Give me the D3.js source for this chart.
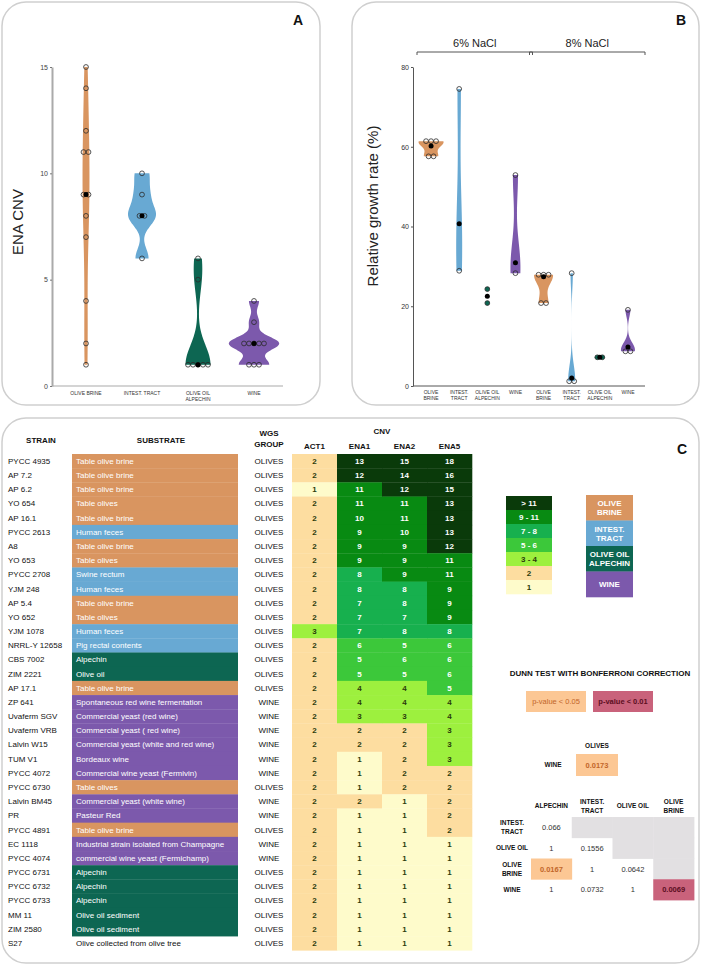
<!DOCTYPE html>
<html><head><meta charset="utf-8">
<script src="https://cdn.jsdelivr.net/npm/d3@7"></script>
<style>body{margin:0;background:#fff}svg{display:block}</style>
</head><body>
<svg id="c" width="702" height="966"></svg>
<script>
// ---------------- DATA ----------------
// Panel A : ENA CNV per isolation-source group
const groupsA = ["OLIVE BRINE","INTEST. TRACT","OLIVE OIL ALPECHIN","WINE"];
const labelsA = [["OLIVE BRINE"],["INTEST. TRACT"],["OLIVE OIL","ALPECHIN"],["WINE"]];
const enaBrine  = [15,14,12,11,11,9,9,8,7,4,2,1];
const enaIntest = [10,9,8,8,6];
const enaOil    = [6,5,1,1,1,1,1];
const enaWine   = [4,3,2,2,2,2,2,1,1,1];
const yTicksA = [0,5,10,15];

// Panel B : relative growth rate (%)
const conditionsB = ["6% NaCl","8% NaCl"];
const labelsB = [["OLIVE","BRINE"],["INTEST.","TRACT"],["OLIVE OIL","ALPECHIN"],["WINE"]];
const growth6Brine  = [61.4,61.4,61.4,57.6,57.6];
const growth6Intest = [74.5,28.9];
const growth6Oil    = [24.3,20.8];
const growth6Wine   = [52.9,28.3];
const growth8Brine  = [27.9,27.9,27.9,20.8,20.8];
const growth8Intest = [28.3,1.2,1.2];
const growth8Oil    = [7.2,7.2];
const growth8Wine   = [19.1,8.7,8.7];
const centers6 = [60.2,40.7,22.5,30.9];
const centers8 = [27.4,2.0,7.2,9.8];
const yTicksB = [0,20,40,60,80];

// Panel C : table
const strains = ["PYCC 4935","AP 7.2","AP 6.2","YO 654","AP 16.1","PYCC 2613","A8","YO 653","PYCC 2708","YJM 248","AP 5.4","YO 652","YJM 1078","NRRL-Y 12658","CBS 7002","ZIM 2221","AP 17.1","ZP 641","Uvaferm SGV","Uvaferm VRB","Lalvin W15","TUM V1","PYCC 4072","PYCC 6730","Lalvin BM45","PR","PYCC 4891","EC 1118","PYCC 4074","PYCC 6731","PYCC 6732","PYCC 6733","MM 11","ZIM 2580","S27"];
const substrates = ["Table olive brine","Table olive brine","Table olive brine","Table olives","Table olive brine","Human feces","Table olive brine","Table olives","Swine rectum","Human feces","Table olive brine","Table olives","Human feces","Pig rectal contents","Alpechin","Olive oil","Table olive brine","Spontaneous red wine fermentation","Commercial yeast (red wine)","Commercial yeast ( red wine)","Commercial yeast (white and red wine)","Bordeaux wine","Commercial wine yeast (Fermivin)","Table olives","Commercial yeast (white wine)","Pasteur Red","Table olive brine","Industrial strain isolated from Champagne","commercial wine yeast (Fermichamp)","Alpechin","Alpechin","Alpechin","Olive oil sediment","Olive oil sediment","Olive collected from olive tree"];
const substrateGroup = ["brine","brine","brine","brine","brine","intest","brine","brine","intest","intest","brine","brine","intest","intest","oil","oil","brine","wine","wine","wine","wine","wine","wine","brine","wine","wine","brine","wine","wine","oil","oil","oil","oil","oil","none"];
const wgsGroup = ["OLIVES","OLIVES","OLIVES","OLIVES","OLIVES","OLIVES","OLIVES","OLIVES","OLIVES","OLIVES","OLIVES","OLIVES","OLIVES","OLIVES","OLIVES","OLIVES","OLIVES","WINE","WINE","WINE","WINE","WINE","WINE","OLIVES","WINE","WINE","OLIVES","WINE","WINE","OLIVES","OLIVES","OLIVES","OLIVES","OLIVES","OLIVES"];
const act1 = [2,2,1,2,2,2,2,2,2,2,2,2,3,2,2,2,2,2,2,2,2,2,2,2,2,2,2,2,2,2,2,2,2,2,2];
const ena1 = [13,12,11,11,10,9,9,9,8,8,7,7,7,6,5,5,4,4,3,2,2,1,1,1,2,1,1,1,1,1,1,1,1,1,1];
const ena2 = [15,14,12,11,11,10,9,9,9,8,8,7,8,5,6,5,4,4,3,2,2,2,2,2,1,1,1,1,1,1,1,1,1,1,1];
const ena5 = [18,16,15,13,13,13,12,11,11,9,9,9,8,6,6,6,5,4,4,3,3,3,2,2,2,2,2,1,1,1,1,1,1,1,1];
const cnvColumns = ["ACT1","ENA1","ENA2","ENA5"];
const cnvLegendLabels = ["> 11","9 - 11","7 - 8","5 - 6","3 - 4","2","1"];
const cnvLegendValues = [12,9,7,5,3,2,1];
const groupLegend = [["OLIVE","BRINE"],["INTEST.","TRACT"],["OLIVE OIL","ALPECHIN"],["WINE"]];
const groupKeys = ["brine","intest","oil","wine"];

// Dunn test
const dunnRows = [["INTEST.","TRACT"],["OLIVE OIL"],["OLIVE","BRINE"],["WINE"]];
const dunnCols = [["ALPECHIN"],["INTEST.","TRACT"],["OLIVE OIL"],["OLIVE","BRINE"]];
const dunnP = [[0.066,null,null,null],[1,0.1556,null,null],[0.0167,1,0.0642,null],[1,0.0732,1,0.0069]];
const wgsCompare = {row:"WINE", col:"OLIVES", p:0.0173};

// ---------------- STYLE ----------------
const FONT = "'Liberation Sans', Arial, Helvetica, sans-serif";
const groupColor = {brine:"#D99560", intest:"#68A9D3", oil:"#0D6652", wine:"#7C59AC", none:"none"};
const cnvColors = ["#FEFBCB","#FDDDA0","#9DF03E","#3CC83A","#17B04E","#088A12","#0A3A0A"];
const cnvScale = d3.scaleThreshold().domain([2,3,5,7,9,12]).range(cnvColors);
const pColor = p => p < 0.01 ? "#C9627B" : (p < 0.05 ? "#FCC794" : null);
const pText  = p => p < 0.01 ? "#5C0E22" : (p < 0.05 ? "#C2662A" : "#333");

const svg = d3.select("#c").attr("font-family", FONT);

// ---------- helpers ----------
function nrd0(v){
  const s = v.slice().sort(d3.ascending);
  const sd = d3.deviation(s) || 0;
  const iqr = d3.quantile(s,0.75) - d3.quantile(s,0.25);
  let lo = Math.min(sd, iqr/1.34);
  if (!(lo > 0)) lo = sd || Math.abs(s[0]) || 1;
  return 0.9*lo*Math.pow(s.length,-0.2);
}
function kde(v, n){
  const bw = nrd0(v);
  const [lo,hi] = d3.extent(v);
  return d3.range(n+1).map(i => {
    const y = lo + (hi-lo)*i/n;
    return [y, d3.mean(v, x => Math.exp(-0.5*((y-x)/bw)**2))/(bw*Math.sqrt(2*Math.PI))];
  });
}
function dodge(vals, cx, spacing){
  const out = [];
  for (const [v, arr] of d3.group(vals, d => d)) {
    arr.forEach((d,k) => out.push({v, x: cx + (k-(arr.length-1)/2)*spacing}));
  }
  return out;
}
function multiline(sel, lines, x, y, lh){
  const t = sel.append("text").attr("x", x).attr("y", y).attr("text-anchor","middle");
  lines.forEach((l,i) => t.append("tspan").attr("x", x).attr("y", y + i*lh).text(l));
  return t;
}

// ---------- panels ----------
const panels = [
  {x:2,y:2,w:318,h:403,label:"A",lx:298,ly:20},
  {x:352,y:2,w:347,h:403,label:"B",lx:681,ly:20},
  {x:2,y:418,w:697,h:545,label:"C",lx:682,ly:449}
];
svg.selectAll("rect.panel").data(panels).join("rect").attr("class","panel")
  .attr("x",d=>d.x).attr("y",d=>d.y).attr("width",d=>d.w).attr("height",d=>d.h)
  .attr("rx",24).attr("fill","none").attr("stroke","#cfcfcf").attr("stroke-width",1.5);
svg.selectAll("text.plab").data(panels).join("text").attr("class","plab")
  .attr("x",d=>d.lx).attr("y",d=>d.ly).attr("dy","0.35em").attr("text-anchor","middle")
  .attr("font-size",14).attr("font-weight","bold").attr("fill","#111").text(d=>d.label);

// ================= PANEL A =================
(function(){
  const series = [enaBrine, enaIntest, enaOil, enaWine];
  const yA = d3.scaleLinear().domain([0,15]).range([386,67]);
  const xA = d3.scaleBand().domain(groupsA).range([58,282]);
  const g = svg.append("g");
  const ax = g.append("g").attr("transform","translate(52,0)")
    .call(d3.axisLeft(yA).tickValues(yTicksA).tickSize(2).tickSizeOuter(0).tickPadding(2));
  ax.select(".domain").attr("stroke","#aaa").attr("stroke-width",2);
  ax.selectAll(".tick line").attr("stroke","#777");
  ax.selectAll(".tick text").attr("font-size",7).attr("fill","#444").attr("font-family",FONT);
  g.append("line").attr("x1",52).attr("x2",283).attr("y1",yA(0)).attr("y2",yA(0))
    .attr("stroke","#aaa").attr("stroke-width",1.2);
  g.append("text").attr("transform","translate(18,222) rotate(-90)").attr("text-anchor","middle")
    .attr("dy","0.35em").attr("font-size",15).attr("fill","#222").text("ENA CNV");

  const dens = series.map(v => kde(v, 120));
  const maxD = d3.max(dens, d => d3.max(d, p => p[1]));
  const wA = d3.scaleLinear().domain([0,maxD]).range([0, xA.bandwidth()*0.45]);
  series.forEach((v,i) => {
    const cx = xA(groupsA[i]) + xA.bandwidth()/2;
    g.append("path").datum(dens[i])
      .attr("d", d3.area().y(d=>yA(d[0])).x0(d=>cx-wA(d[1])).x1(d=>cx+wA(d[1])))
      .attr("fill", groupColor[groupKeys[i]]);
    g.selectAll(null).data(dodge(v, cx, 5)).join("circle")
      .attr("cx",d=>d.x).attr("cy",d=>yA(d.v)).attr("r",2.4)
      .attr("fill","none").attr("stroke","#2b2b2b").attr("stroke-width",0.8);
    g.append("circle").attr("cx",cx).attr("cy",yA(d3.median(v))).attr("r",2.5).attr("fill","#000");
    multiline(g, labelsA[i], cx, 395, 6).attr("font-size",5).attr("fill","#333");
  });
})();

// ================= PANEL B =================
(function(){
  const series = [growth6Brine,growth6Intest,growth6Oil,growth6Wine,growth8Brine,growth8Intest,growth8Oil,growth8Wine];
  const centers = centers6.concat(centers8);
  const keys = [];
  conditionsB.forEach(c => groupsA.forEach(gp => keys.push(c+"|"+gp)));
  const violinWidth = [25,6,0,10,19,7,0,14];
  const dotFilled = [false,false,true,false,false,false,true,false];
  const yB = d3.scaleLinear().domain([0,80]).range([386,67]);
  const xB = d3.scaleBand().domain(keys).range([417,642]);
  const g = svg.append("g");
  const ax = g.append("g").attr("transform","translate(413,0)")
    .call(d3.axisLeft(yB).tickValues(yTicksB).tickSize(2).tickSizeOuter(0).tickPadding(2));
  ax.select(".domain").attr("stroke","#555").attr("stroke-width",1);
  ax.selectAll(".tick line").attr("stroke","#555");
  ax.selectAll(".tick text").attr("font-size",7).attr("fill","#333").attr("font-family",FONT);
  g.append("line").attr("x1",413).attr("x2",645).attr("y1",yB(0)).attr("y2",yB(0))
    .attr("stroke","#555").attr("stroke-width",1);
  g.append("text").attr("transform","translate(373,206) rotate(-90)").attr("text-anchor","middle")
    .attr("dy","0.35em").attr("font-size",15).attr("fill","#222").text("Relative growth rate (%)");

  // condition brackets
  conditionsB.forEach((c,ci) => {
    const first = xB(keys[ci*4]), last = xB(keys[ci*4+3]) + xB.bandwidth();
    const x0 = first, x1 = last + 3;
    g.append("path").attr("d",`M${x0},55V52H${x1}V55`).attr("fill","none").attr("stroke","#555").attr("stroke-width",1);
    g.append("text").attr("x",(x0+x1)/2).attr("y",43).attr("dy","0.35em").attr("text-anchor","middle")
      .attr("font-size",11).attr("fill","#222").text(c);
  });

  series.forEach((v,i) => {
    const gi = i % 4;
    const cx = xB(keys[i]) + xB.bandwidth()/2;
    const col = groupColor[groupKeys[gi]];
    if (violinWidth[i] > 0) {
      const d = kde(v.concat([centers[i]]), 120);
      const w = d3.scaleLinear().domain([0, d3.max(d, p=>p[1])]).range([0, violinWidth[i]/2]);
      g.append("path").datum(d)
        .attr("d", d3.area().y(p=>yB(p[0])).x0(p=>cx-w(p[1])).x1(p=>cx+w(p[1])))
        .attr("fill", col);
    }
    g.selectAll(null).data(dodge(v, cx, 5)).join("circle")
      .attr("cx",d=>d.x).attr("cy",d=>yB(d.v)).attr("r",2.4)
      .attr("fill", dotFilled[i] ? col : "none").attr("stroke","#2b2b2b").attr("stroke-width",0.8);
    g.append("circle").attr("cx",cx).attr("cy",yB(centers[i])).attr("r",2.5).attr("fill","#000");
    multiline(g, labelsB[gi], cx, 394, 6).attr("font-size",5).attr("fill","#333");
  });
})();

// ================= PANEL C =================
(function(){
  const g = svg.append("g");
  const yR = d3.scaleBand().domain(strains).range([454, 950.3]);
  const xC = d3.scaleBand().domain(cnvColumns).range([292, 472]);
  const rh = yR.bandwidth();
  const cy = s => yR(s) + rh/2;

  // headers
  const hdr = (x,y,t,fs) => g.append("text").attr("x",x).attr("y",y).attr("dy","0.35em")
      .attr("text-anchor","middle").attr("font-size",fs||8).attr("font-weight","bold").attr("fill","#111").text(t);
  hdr(41,440,"STRAIN"); hdr(161,440,"SUBSTRATE");
  hdr(269,433,"WGS"); hdr(269,444,"GROUP");
  hdr((xC.range()[0]+xC.range()[1])/2,431,"CNV");
  cnvColumns.forEach(c => hdr(xC(c)+xC.bandwidth()/2, 446, c));

  // strain names
  g.selectAll("text.strain").data(strains).join("text").attr("class","strain")
    .attr("x",8).attr("y",d=>cy(d)).attr("dy","0.35em").attr("font-size",8).attr("fill","#111").text(d=>d);
  // substrate cells
  g.selectAll("rect.sub").data(strains).join("rect").attr("class","sub")
    .attr("x",72).attr("width",166).attr("y",d=>yR(d)).attr("height",rh+0.3)
    .attr("fill",(d,i)=>groupColor[substrateGroup[i]]);
  g.selectAll("text.sub").data(substrates).join("text").attr("class","sub")
    .attr("x",76).attr("y",(d,i)=>cy(strains[i])).attr("dy","0.35em").attr("font-size",8)
    .attr("fill",(d,i)=>substrateGroup[i]==="none" ? "#111" : "#fff").text(d=>d);
  // WGS group
  g.selectAll("text.wgs").data(wgsGroup).join("text").attr("class","wgs")
    .attr("x",269).attr("y",(d,i)=>cy(strains[i])).attr("dy","0.35em").attr("text-anchor","middle")
    .attr("font-size",8).attr("fill","#111").text(d=>d);
  // CNV cells
  const cols = [act1, ena1, ena2, ena5];
  cols.forEach((arr,ci) => {
    const x = xC(cnvColumns[ci]);
    g.selectAll(null).data(arr).join("rect")
      .attr("x",x).attr("width",xC.bandwidth()+0.3).attr("y",(d,i)=>yR(strains[i])).attr("height",rh+0.3)
      .attr("fill",d=>cnvScale(d));
    g.selectAll(null).data(arr).join("text")
      .attr("x",x+xC.bandwidth()/2).attr("y",(d,i)=>cy(strains[i])).attr("dy","0.35em")
      .attr("text-anchor","middle").attr("font-size",8).attr("font-weight","bold")
      .attr("fill",d=>d>=5 ? "#fff" : "#2c3b0c").text(d=>d);
  });

  // CNV legend
  const yL = d3.scaleBand().domain(cnvLegendLabels).range([496, 594]);
  g.selectAll("rect.cl").data(cnvLegendLabels).join("rect").attr("class","cl")
    .attr("x",506).attr("width",46).attr("y",d=>yL(d)).attr("height",yL.bandwidth()+0.3)
    .attr("fill",(d,i)=>cnvScale(cnvLegendValues[i]));
  g.selectAll("text.cl").data(cnvLegendLabels).join("text").attr("class","cl")
    .attr("x",529).attr("y",d=>yL(d)+yL.bandwidth()/2).attr("dy","0.35em").attr("text-anchor","middle")
    .attr("font-size",8).attr("font-weight","bold")
    .attr("fill",(d,i)=>cnvLegendValues[i]>=5 ? "#fff" : "#2c3b0c").text(d=>d);

  // group legend
  const yG = d3.scaleBand().domain(groupKeys).range([495, 597]);
  groupKeys.forEach((k,i) => {
    g.append("rect").attr("x",586).attr("width",47).attr("y",yG(k)).attr("height",yG.bandwidth()+0.3)
      .attr("fill",groupColor[k]);
    const lines = groupLegend[i];
    const yc = yG(k) + yG.bandwidth()/2 - (lines.length-1)*4.5;
    multiline(g, lines, 609.5, yc, 9).attr("dy","0.35em").attr("font-size",8).attr("font-weight","bold").attr("fill","#fff")
      .selectAll("tspan").attr("dy","0.35em");
  });

  // Dunn test title & key
  g.append("text").attr("x",600).attr("y",673).attr("dy","0.35em").attr("text-anchor","middle")
    .attr("font-size",8).attr("font-weight","bold").attr("fill","#111").text("DUNN TEST WITH BONFERRONI CORRECTION");
  const keyP = [0.04, 0.005], keyLbl = ["p-value < 0.05","p-value < 0.01"], keyX = [526, 593];
  keyP.forEach((p,i) => {
    g.append("rect").attr("x",keyX[i]).attr("y",691).attr("width",60).attr("height",21).attr("fill",pColor(p));
    g.append("text").attr("x",keyX[i]+30).attr("y",701.5).attr("dy","0.35em").attr("text-anchor","middle")
      .attr("font-size",7.5).attr("font-weight", i ? "bold" : "normal").attr("fill",pText(p)).text(keyLbl[i]);
  });

  // WGS group comparison
  g.append("text").attr("x",597).attr("y",746).attr("dy","0.35em").attr("text-anchor","middle")
    .attr("font-size",6.5).attr("font-weight","bold").attr("fill","#111").text(wgsCompare.col);
  g.append("text").attr("x",553).attr("y",765).attr("dy","0.35em").attr("text-anchor","middle")
    .attr("font-size",6.5).attr("font-weight","bold").attr("fill","#111").text(wgsCompare.row);
  g.append("rect").attr("x",576).attr("y",754).attr("width",42).attr("height",22).attr("fill",pColor(wgsCompare.p));
  g.append("text").attr("x",597).attr("y",765).attr("dy","0.35em").attr("text-anchor","middle")
    .attr("font-size",7.5).attr("font-weight","bold").attr("fill",pText(wgsCompare.p)).text(String(wgsCompare.p));

  // Dunn matrix
  const colKeys = dunnCols.map(d=>d.join(" ")), rowKeys = dunnRows.map(d=>d.join(" "));
  const xD = d3.scaleBand().domain(colKeys).range([531, 694]);
  const yD = d3.scaleBand().domain(rowKeys).range([817, 900]);
  dunnCols.forEach((lines,i) => {
    const x = xD(colKeys[i]) + xD.bandwidth()/2;
    multiline(g, lines, x, 806 - (lines.length-1)*4.5, 9).attr("font-size",6.5).attr("font-weight","bold").attr("fill","#111")
      .selectAll("tspan").attr("dy","0.35em");
  });
  dunnRows.forEach((lines,i) => {
    const y = yD(rowKeys[i]) + yD.bandwidth()/2;
    multiline(g, lines, 512, y - (lines.length-1)*4.5, 9).attr("font-size",6.5).attr("font-weight","bold").attr("fill","#111")
      .selectAll("tspan").attr("dy","0.35em");
  });
  dunnP.forEach((row,ri) => row.forEach((p,ci) => {
    const x = xD(colKeys[ci]), y = yD(rowKeys[ri]);
    const fill = p === null ? "#E2E0E2" : pColor(p);
    if (fill) g.append("rect").attr("x",x).attr("y",y).attr("width",xD.bandwidth()+0.4).attr("height",yD.bandwidth()+0.4).attr("fill",fill);
    if (p !== null) g.append("text").attr("x",x+xD.bandwidth()/2).attr("y",y+yD.bandwidth()/2).attr("dy","0.35em")
      .attr("text-anchor","middle").attr("font-size",7.5).attr("font-weight",pColor(p) ? "bold" : "normal")
      .attr("fill",pText(p)).text(String(p));
  }));
})();
</script>
</body></html>
